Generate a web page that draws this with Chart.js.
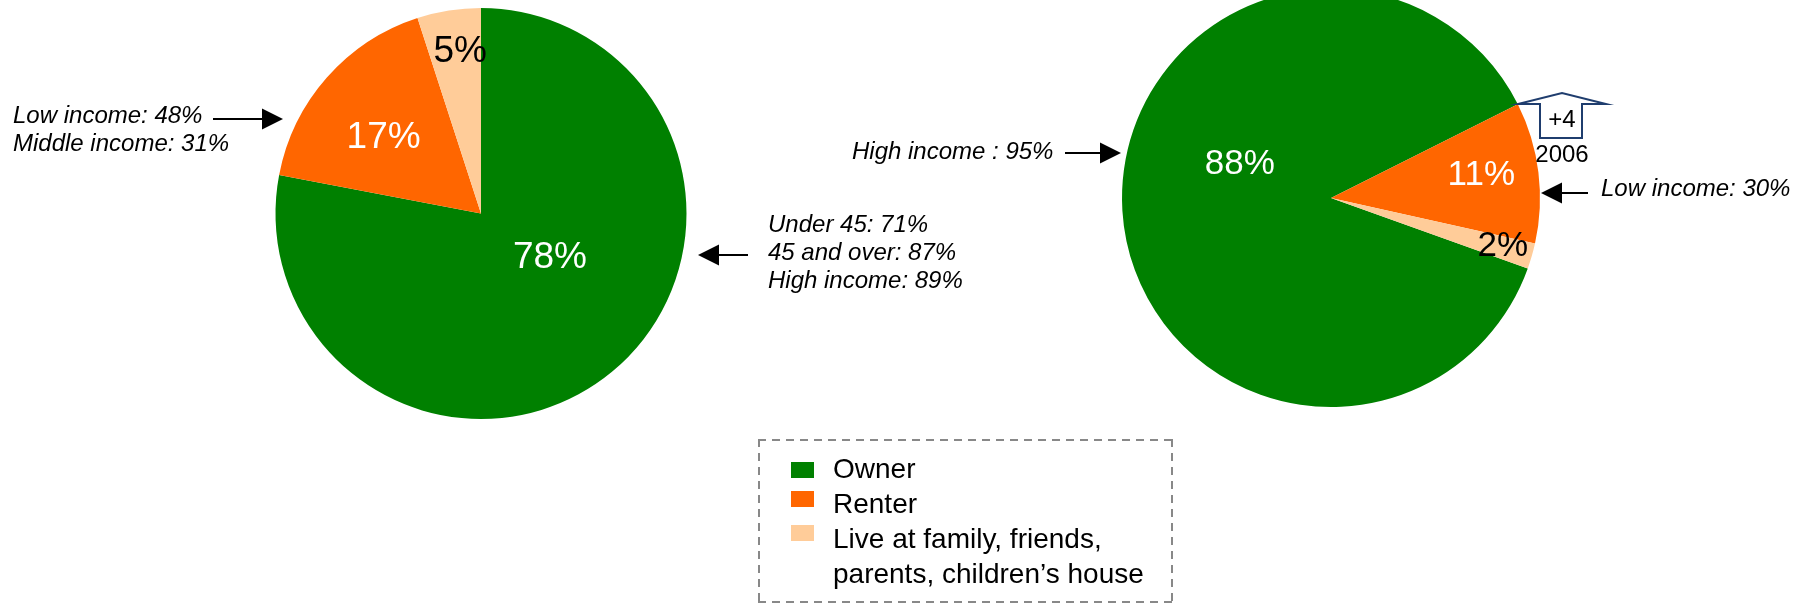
<!DOCTYPE html>
<html>
<head>
<meta charset="utf-8">
<script src="https://cdn.jsdelivr.net/npm/chart.js"></script>
<style>
    body { margin: 0; background: #fff; }
    #page { position: relative; width: 1800px; height: 608px; overflow: hidden; font-family: "Liberation Sans", Arial, sans-serif; }
    canvas { position: absolute; left: 0; top: -20px; }
    #legend {
        position: absolute; left: 758px; top: 439px; width: 415px; height: 164px;
        background:
            linear-gradient(90deg, #888 60%, transparent 0) top left / 14px 2px repeat-x,
            linear-gradient(90deg, #888 60%, transparent 0) bottom left / 14px 2px repeat-x,
            linear-gradient(180deg, #888 60%, transparent 0) top left / 2px 14px repeat-y,
            linear-gradient(180deg, #888 60%, transparent 0) top right / 2px 14px repeat-y;
    }
    .item { position: absolute; left: 75px; width: 340px; font-size: 28px; line-height: 35px; color: #000; }
    .swatch { position: absolute; left: 33px; width: 23px; height: 16px; }
</style>
</head>
<body>
<div id="page">
    <canvas id="leftPie" width="1800" height="640"></canvas>
    <canvas id="rightPie" width="1800" height="640"></canvas>
    <div id="legend"></div>
</div>
<script>
// Data
const categories = ['Owner', 'Renter', 'Live at family, friends, parents, children\u2019s house'];
const leftValues = [78, 17, 5];
const rightValues = [88, 11, 2];
const sliceColors = ['#008000', '#FF6600', '#FFCC99'];
const labelColors = ['#ffffff', '#ffffff', '#000000'];

const FONT = '"Liberation Sans", Arial, sans-serif';
const Y_SHIFT = 20; // canvases sit 20px above the page top

// percentage labels inside the slices
const sliceLabels = {
    id: 'sliceLabels',
    afterDatasetsDraw(chart, args, opts) {
        const ctx = chart.ctx;
        const meta = chart.getDatasetMeta(0);
        const values = chart.data.datasets[0].data;
        ctx.save();
        ctx.font = opts.size + 'px ' + FONT;
        ctx.textAlign = 'center';
        ctx.textBaseline = 'alphabetic';
        meta.data.forEach((arc, i) => {
            const p = arc.getProps(['x', 'y', 'startAngle', 'endAngle', 'outerRadius'], true);
            const a = (p.startAngle + p.endAngle) / 2 + opts.shift[i] * Math.PI / 180;
            const r = p.outerRadius * opts.dist[i];
            ctx.fillStyle = labelColors[i];
            ctx.fillText(values[i] + '%', p.x + Math.cos(a) * r, p.y + Math.sin(a) * r + opts.size * 0.36);
        });
        ctx.restore();
    }
};

function arrow(ctx, x1, x2, y) {
    // line from x1 to tip x2
    const dir = x2 > x1 ? 1 : -1;
    const head = 21;
    ctx.beginPath();
    ctx.moveTo(x1, y);
    ctx.lineTo(x2 - dir * head, y);
    ctx.lineWidth = 2;
    ctx.strokeStyle = '#000';
    ctx.stroke();
    ctx.beginPath();
    ctx.moveTo(x2, y);
    ctx.lineTo(x2 - dir * head, y - 10.5);
    ctx.lineTo(x2 - dir * head, y + 10.5);
    ctx.closePath();
    ctx.fillStyle = '#000';
    ctx.fill();
}

// side notes with arrows
const notes = {
    id: 'notes',
    afterDraw(chart, args, opts) {
        const ctx = chart.ctx;
        ctx.save();
        ctx.translate(0, Y_SHIFT);
        ctx.fillStyle = '#000';
        ctx.textBaseline = 'alphabetic';
        ctx.textAlign = 'left';
        ctx.font = 'italic 24px ' + FONT;
        opts.texts.forEach(t => {
            t.lines.forEach((line, j) => ctx.fillText(line, t.x, t.y + j * 28));
        });
        opts.arrows.forEach(a => arrow(ctx, a[0], a[1], a[2]));
        if (opts.change) {
            const c = opts.change;
            ctx.beginPath();
            ctx.moveTo(c.x - 22, c.bottom);
            ctx.lineTo(c.x - 22, c.bottom - 34);
            ctx.lineTo(c.x - 44, c.bottom - 34);
            ctx.lineTo(c.x, c.bottom - 45);
            ctx.lineTo(c.x + 44, c.bottom - 34);
            ctx.lineTo(c.x + 20, c.bottom - 34);
            ctx.lineTo(c.x + 20, c.bottom);
            ctx.closePath();
            ctx.fillStyle = '#fff';
            ctx.fill();
            ctx.lineWidth = 2;
            ctx.strokeStyle = '#1F3D6E';
            ctx.stroke();
            ctx.fillStyle = '#000';
            ctx.textAlign = 'center';
            ctx.font = '24px ' + FONT;
            ctx.fillText(c.text, c.x, c.bottom - 11);
            ctx.fillText(c.year, c.x, c.bottom + 24);
        }
        ctx.restore();
    }
};

function makePie(id, values, rotation, padding, labelOpts, noteOpts) {
    return new Chart(document.getElementById(id), {
        type: 'pie',
        data: {
            labels: categories,
            datasets: [{
                data: values,
                backgroundColor: sliceColors,
                borderWidth: 0,
                hoverOffset: 0,
                offset: 0
            }]
        },
        options: {
            responsive: false,
            animation: false,
            events: [],
            rotation: rotation,
            layout: { padding: padding },
            plugins: {
                legend: { display: false },
                tooltip: { enabled: false },
                sliceLabels: labelOpts,
                notes: noteOpts
            }
        },
        plugins: [sliceLabels, notes]
    });
}

makePie('leftPie', leftValues, 0,
    { left: 275.5, right: 1113.5, top: 28, bottom: 201 },
    { size: 37, shift: [-19.7, -2.4, 1.8], dist: [0.39, 0.61, 0.81] },
    {
        texts: [
            { x: 13, y: 123, lines: ['Low income: 48%', 'Middle income: 31%'] },
            { x: 768, y: 232, lines: ['Under 45: 71%', '45 and over: 87%', 'High income: 89%'] }
        ],
        arrows: [[213, 283, 119], [748, 698, 255]]
    });

makePie('rightPie', rightValues, 109.7,
    { left: 1122, right: 260, top: 9, bottom: 213 },
    { size: 35, shift: [25.4, -2.8, -1.4], dist: [0.47, 0.73, 0.85] },
    {
        texts: [
            { x: 852, y: 159, lines: ['High income : 95%'] },
            { x: 1601, y: 196, lines: ['Low income: 30%'] }
        ],
        arrows: [[1065, 1121, 153], [1588, 1541, 193]],
        change: { x: 1562, bottom: 138, text: '+4', year: '2006' }
    });

// legend
const legend = document.getElementById('legend');
const rowTops = [12, 47, 82];
const swatchTops = [23, 52, 86];
categories.forEach((name, i) => {
    const sw = document.createElement('div');
    sw.className = 'swatch';
    sw.style.top = swatchTops[i] + 'px';
    sw.style.background = sliceColors[i];
    legend.appendChild(sw);
    const item = document.createElement('div');
    item.className = 'item';
    item.style.top = rowTops[i] + 'px';
    item.textContent = name;
    legend.appendChild(item);
});
</script>
</body>
</html>
